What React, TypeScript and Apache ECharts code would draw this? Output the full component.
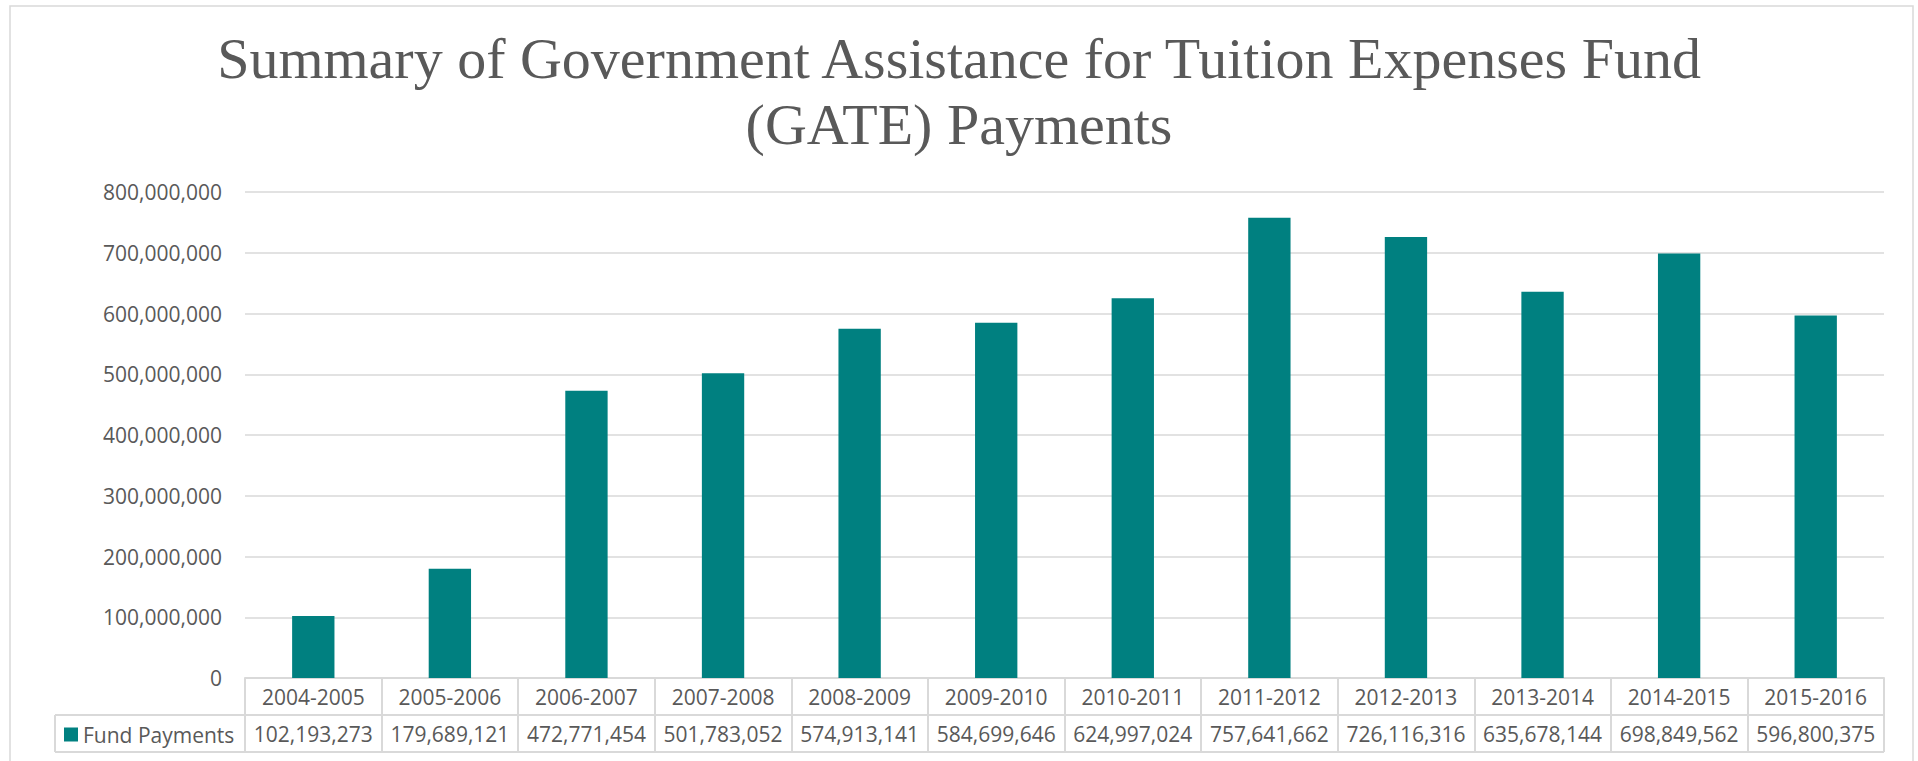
import React, { useEffect, useRef } from "react";
import * as echarts from "echarts";

const titleLines = [
  "Summary of Government Assistance for Tuition Expenses Fund",
  "(GATE) Payments",
];
const seriesName = "Fund Payments";
const categories = [
  "2004-2005", "2005-2006", "2006-2007", "2007-2008", "2008-2009", "2009-2010",
  "2010-2011", "2011-2012", "2012-2013", "2013-2014", "2014-2015", "2015-2016",
];
const payments = [
  102193273, 179689121, 472771454, 501783052, 574913141, 584699646,
  624997024, 757641662, 726116316, 635678144, 698849562, 596800375,
];
const yMin = 0;
const yMax = 800000000;
const yStep = 100000000;

const fmt = (v: number) => Number(v).toLocaleString("en-US");

export default function App() {
  const ref = useRef<HTMLDivElement>(null);
  useEffect(() => {
    document.body.style.margin = "0";
    if (!ref.current) return;
    const chart = echarts.init(ref.current, null, { renderer: "svg" });
    const W = 1918;
    const H = 761;
    const gridLeft = 245;
    const gridRight = 34;
    const gridTop = 192;
    const gridBottom = 83;
    const axisY = H - gridBottom; // 678
    const row1 = axisY + 37;
    const row2 = axisY + 74;
    const tableLeft = 55;
    const tableRight = W - gridRight;
    const gray = "#d9d9d9";
    const textColor = "#595959";
    const font = "'Open Sans', sans-serif";
    chart.setOption({
      animation: false,
      backgroundColor: "#ffffff",
      title: {
        text: titleLines.join("\n"),
        left: "center",
        top: 25,
        padding: 0,
        textStyle: {
          fontFamily: "'Liberation Serif', serif",
          fontSize: 58,
          fontWeight: "normal",
          lineHeight: 66,
          color: textColor,
        },
      },
      legend: {
        data: [seriesName],
        left: 64,
        top: 724,
        padding: 0,
        icon: "rect",
        itemWidth: 14,
        itemHeight: 14,
        textStyle: { fontFamily: font, fontSize: 21, color: textColor },
      },
      grid: {
        left: gridLeft,
        right: gridRight,
        top: gridTop,
        bottom: gridBottom,
        containLabel: false,
      },
      xAxis: [
        {
          type: "category",
          data: categories,
          position: "bottom",
          axisLine: { show: true, lineStyle: { color: gray, width: 2 } },
          axisTick: { show: true, length: 74, lineStyle: { color: gray, width: 2 } },
          axisLabel: {
            margin: 8,
            fontFamily: font,
            fontSize: 21,
            color: textColor,
            interval: 0,
          },
        },
        {
          type: "category",
          data: payments.map(fmt),
          position: "bottom",
          offset: 37,
          axisLine: { show: false },
          axisTick: { show: false },
          axisLabel: {
            margin: 8,
            fontFamily: font,
            fontSize: 21,
            color: textColor,
            interval: 0,
          },
        },
      ],
      yAxis: {
        type: "value",
        min: yMin,
        max: yMax,
        interval: yStep,
        axisLine: { show: false },
        axisTick: { show: false },
        axisLabel: {
          margin: 23,
          fontFamily: font,
          fontSize: 21,
          color: textColor,
          formatter: (v: number) => fmt(v),
        },
        splitLine: { lineStyle: { color: gray, width: 1.5 } },
      },
      series: [
        {
          name: seriesName,
          type: "bar",
          xAxisIndex: 0,
          data: payments,
          barWidth: "31%",
          itemStyle: { color: "#008080" },
        },
      ],
      graphic: [
        {
          type: "rect",
          silent: true,
          shape: { x: 10, y: 6, width: 1903, height: 770 },
          style: { fill: "none", stroke: gray, lineWidth: 1.5 },
          z: -1,
        },
        {
          type: "line",
          silent: true,
          shape: { x1: tableLeft, y1: row1, x2: tableRight, y2: row1 },
          style: { stroke: gray, lineWidth: 2 },
        },
        {
          type: "line",
          silent: true,
          shape: { x1: tableLeft, y1: row2, x2: tableRight, y2: row2 },
          style: { stroke: gray, lineWidth: 2 },
        },
        {
          type: "line",
          silent: true,
          shape: { x1: tableLeft, y1: row1, x2: tableLeft, y2: row2 },
          style: { stroke: gray, lineWidth: 2 },
        },
      ],
    });
    return () => chart.dispose();
  }, []);
  return <div ref={ref} style={{ width: 1918, height: 761 }} />;
}
